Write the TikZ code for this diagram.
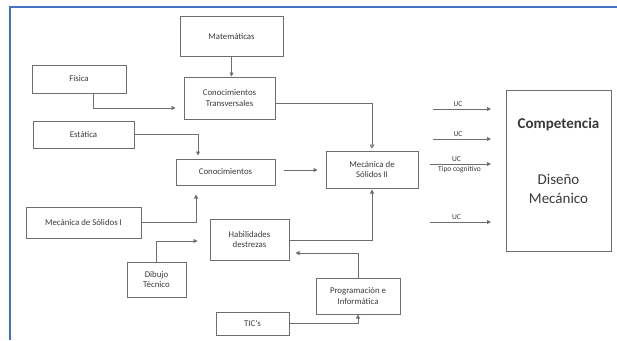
\documentclass[tikz,border=0pt]{standalone}
\usepackage{fontspec}
\setmainfont{Carlito}
\usetikzlibrary{arrows.meta}
\definecolor{frameblue}{HTML}{4472C4}
\definecolor{linegray}{HTML}{6E6E6E}
\definecolor{txtgray}{HTML}{3A3A3A}
\tikzset{
  box/.style={draw=linegray, line width=1pt, inner sep=1pt, align=center,
    text=txtgray, font=\fontsize{8.8}{10.5}\selectfont},
  arr/.style={draw=linegray, line width=0.9pt, -{Triangle[length=4pt,width=4pt]}},
  openarr/.style={draw=linegray, line width=0.9pt, -{Triangle[open,length=4pt,width=5pt]}},
  uclabel/.style={font=\fontsize{7.5}{8}\selectfont, text=txtgray, inner sep=1.5pt}
}
\begin{document}
\begin{tikzpicture}[x=1pt,y=-1pt]
\useasboundingbox (0,0) rectangle (617,340);
% page frame
\draw[frameblue, line width=2pt] (10,340) -- (10,7) -- (617,7);

% boxes
\node[box, minimum width=103pt, minimum height=40pt] (mat)  at (231.5,36)   {Matemáticas};
\node[box, minimum width=94pt,  minimum height=28pt] (fis)  at (79,79)      {Física};
\node[box, minimum width=91pt,  minimum height=42pt] (ct)   at (229.5,98)   {Conocimientos\\Transversales};
\node[box, minimum width=101pt, minimum height=27pt] (est)  at (83.5,134.5) {Estática};
\node[box, minimum width=99pt,  minimum height=26pt] (con)  at (225.5,172)  {Conocimientos};
\node[box, minimum width=92pt,  minimum height=37pt] (ms2)  at (372,169.5)  {Mecánica de\\Sólidos II};
\node[box, minimum width=115pt, minimum height=31pt] (ms1)  at (83.5,222.5) {Mecánica de Sólidos I};
\node[box, minimum width=79pt,  minimum height=41pt] (hab)  at (249.5,239.5){Habilidades\\destrezas};
\node[box, minimum width=59pt,  minimum height=35pt] (dib)  at (156.5,279.5){Dibujo\\Técnico};
\node[box, minimum width=73pt,  minimum height=23pt] (tic)  at (252.5,323.5){TIC's};
\node[box, minimum width=84pt,  minimum height=36pt] (prog) at (358,296)    {Programación e\\Informática};
\node[box, minimum width=105pt, minimum height=161pt] (comp) at (558.5,170.5) {};
\node[font=\fontsize{15}{17}\selectfont\bfseries, text=txtgray] (comptitle) at (558.5,124) {Competencia};
\node[font=\fontsize{15}{18.5}\selectfont, text=txtgray, align=center] (compname) at (558.5,189) {Diseño\\Mecánico};

% connectors
\draw[arr] (mat.south) -- (mat.south |- ct.north);
\draw[arr] ([xshift=14pt]fis.south) |- ([xshift=-8pt,yshift=-10pt]ct.west);
\draw[openarr] ([yshift=-5pt]ct.east) -| ([yshift=2pt]ms2.north);
\draw[arr] (est.east) -| ([xshift=-27.5pt,yshift=3pt]con.north);
\draw[arr] ([xshift=8pt,yshift=2pt]con.east) -- ([xshift=-8pt,yshift=2pt]con.east -| ms2.west);
\draw[arr] (ms1.east) -| ([xshift=-29.5pt,yshift=-9pt]con.south);
\draw[arr] (dib.north) |- ([xshift=-12pt,yshift=-1.5pt]hab.west);
\draw[arr] ([yshift=-0.5pt]hab.east) -| ([yshift=-1pt]ms2.south);
\draw[arr] (prog.north) |- ([xshift=6pt,yshift=-13.5pt]hab.east);
\draw[arr] (tic.east) -| (prog.south);

% unit-of-competence arrows
\coordinate (u1a) at (433,109); \coordinate (u1b) at (491,109);
\coordinate (u2a) at (433,139); \coordinate (u2b) at (491,139);
\coordinate (u3a) at (430,164); \coordinate (u3b) at (491,164);
\coordinate (u4a) at (430,222); \coordinate (u4b) at (491,222);
\draw[arr] (u1a) -- node[uclabel, above, xshift=-4pt] {UC} (u1b);
\draw[arr] (u2a) -- node[uclabel, above, xshift=-4pt] {UC} (u2b);
\draw[arr] (u3a) -- node[uclabel, above, xshift=-4pt] {UC} node[uclabel, below, xshift=-1pt] {Tipo cognitivo} (u3b);
\draw[arr] (u4a) -- node[uclabel, above, xshift=-4pt] {UC} (u4b);
\end{tikzpicture}
\end{document}
